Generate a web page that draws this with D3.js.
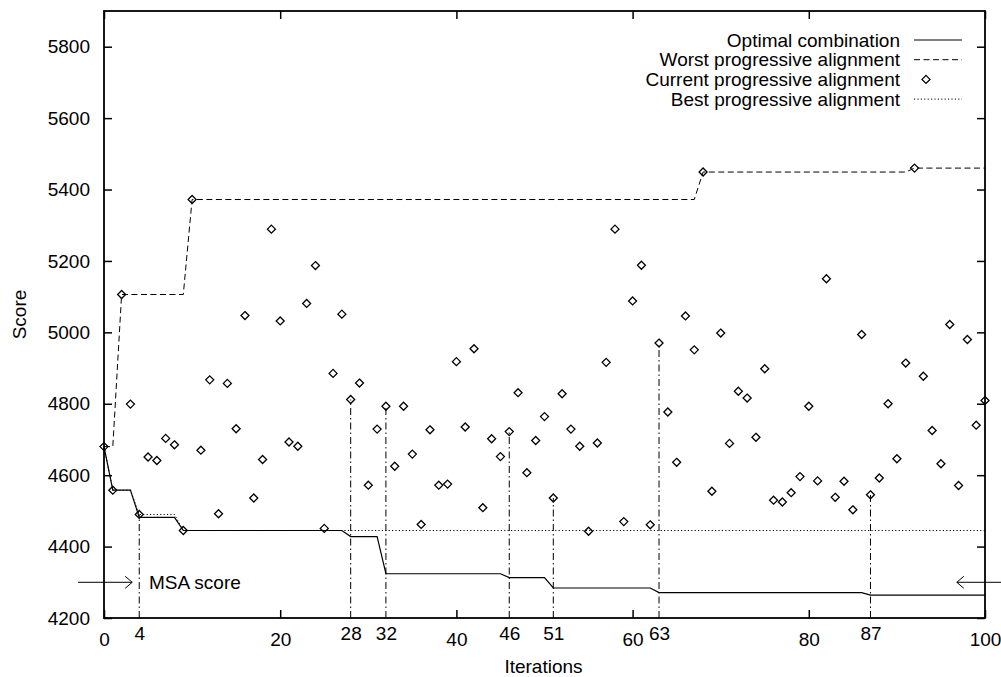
<!DOCTYPE html>
<html>
<head>
<meta charset="utf-8">
<script src="https://cdn.jsdelivr.net/npm/d3@7"></script>
<style>
  body { margin: 0; background: #fff; }
  text { font-family: "Liberation Sans", Arial, Helvetica, sans-serif; font-size: 19px; fill: #000; }
</style>
</head>
<body>
<div id="chart"></div>
<script>
// score of the progressive alignment at each iteration 0..100
const currentScores = [
  4680, 4558, 5106, 4799, 4490, 4651, 4641, 4703, 4685, 4445,
  5372, 4670, 4867, 4492, 4857, 4730, 5047, 4536, 4644, 5289,
  5032, 4693, 4681, 5081, 5187, 4451, 4885, 5051, 4812, 4858,
  4572, 4729, 4793, 4625, 4793, 4659, 4462, 4727, 4572, 4575,
  4918, 4735, 4954, 4509, 4702, 4652, 4722, 4831, 4607, 4697,
  4764, 4536, 4828, 4729, 4681, 4443, 4690, 4916, 5289, 4470,
  5088, 5188, 4461, 4970, 4777, 4636, 5046, 4951, 5449, 4555,
  4998, 4689, 4835, 4816, 4706, 4898, 4530, 4525, 4551, 4596,
  4793, 4584, 5150, 4538, 4583, 4503, 4994, 4545, 4592, 4800,
  4646, 4914, 5460, 4877, 4725, 4632, 5022, 4571, 4980, 4740,
  4809
];

// [iteration, score]
const optimalLine = [
  [0, 4680], [1, 4558], [3, 4558], [4, 4482], [8, 4482], [9, 4445],
  [27, 4445], [28, 4428], [31, 4428], [32, 4324], [45, 4324], [46, 4313],
  [50, 4313], [51, 4284], [62, 4284], [63, 4271], [86, 4271], [87, 4264],
  [100, 4264]
];
const worstLine = [
  [0, 4680], [1, 4680], [2, 5106], [9, 5106], [10, 5372], [67, 5372],
  [68, 5449], [91, 5449], [92, 5460], [100, 5460]
];
const bestLine = [
  [0, 4680], [1, 4558], [3, 4558], [4, 4490], [8, 4490], [9, 4445], [100, 4445]
];

const markedIterations = [4, 28, 32, 46, 51, 63, 87];
const xMajorTicks = [0, 20, 40, 60, 80, 100];
const yTicks = [4200, 4400, 4600, 4800, 5000, 5200, 5400, 5600, 5800];
const legendLabels = ["Optimal combination", "Worst progressive alignment",
                      "Current progressive alignment", "Best progressive alignment"];
const msaScore = 4300;

const W = 1001, H = 677;
const plot = { left: 104, right: 985, top: 11, bottom: 618 };

const svg = d3.select("#chart").append("svg")
  .attr("width", W).attr("height", H)
  .style("background", "#fff");

const x = d3.scaleLinear().domain([0, 100]).range([plot.left, plot.right]);
const y = d3.scaleLinear().domain([4200, 5900]).range([plot.bottom, plot.top]);

// axes (ticks point inwards, like gnuplot)
function styleAxis(g) {
  g.select(".domain").remove();
  g.selectAll(".tick line").attr("stroke", "#000").attr("stroke-width", 1.5);
  g.selectAll(".tick text").style("font-size", "19px").attr("fill", "#000");
}

svg.append("g")
  .attr("transform", `translate(0,${plot.bottom})`)
  .call(d3.axisBottom(x).tickValues(xMajorTicks).tickSizeInner(-8).tickSizeOuter(0).tickPadding(15))
  .call(styleAxis);

svg.append("g")
  .attr("transform", `translate(0,${plot.bottom})`)
  .call(d3.axisBottom(x).tickValues(markedIterations).tickSizeInner(0).tickSizeOuter(0).tickPadding(9))
  .call(styleAxis);

svg.append("g")
  .attr("transform", `translate(0,${plot.top})`)
  .call(d3.axisTop(x).tickValues(xMajorTicks).tickSizeInner(-8).tickSizeOuter(0).tickFormat(""))
  .call(styleAxis);

svg.append("g")
  .attr("transform", `translate(${plot.left},0)`)
  .call(d3.axisLeft(y).tickValues(yTicks).tickSizeInner(-8).tickSizeOuter(0).tickPadding(14).tickFormat(d3.format("d")))
  .call(styleAxis);

svg.append("g")
  .attr("transform", `translate(${plot.right},0)`)
  .call(d3.axisRight(y).tickValues(yTicks).tickSizeInner(-8).tickSizeOuter(0).tickFormat(""))
  .call(styleAxis);

// frame
svg.append("rect")
  .attr("x", plot.left).attr("y", plot.top)
  .attr("width", plot.right - plot.left).attr("height", plot.bottom - plot.top)
  .attr("fill", "none").attr("stroke", "#000").attr("stroke-width", 1.8);

// axis titles
svg.append("text")
  .attr("x", (plot.left + plot.right) / 2 - 1).attr("y", 673)
  .attr("text-anchor", "middle")
  .text("Iterations");

svg.append("text")
  .attr("transform", `translate(26,${(plot.top + plot.bottom) / 2}) rotate(-90)`)
  .attr("text-anchor", "middle")
  .text("Score");

const line = d3.line().x(d => x(d[0])).y(d => y(d[1]));

// dash-dot markers where the optimal combination improved
svg.append("g").selectAll("line")
  .data(markedIterations)
  .join("line")
  .attr("x1", d => x(d)).attr("x2", d => x(d))
  .attr("y1", y(4200)).attr("y2", d => y(currentScores[d]))
  .attr("stroke", "#000").attr("stroke-width", 1)
  .attr("stroke-dasharray", "7,3,1.5,3");

svg.append("path").datum(bestLine)
  .attr("d", line).attr("fill", "none")
  .attr("stroke", "#000").attr("stroke-width", 1)
  .attr("stroke-dasharray", "1.2,2.2");

svg.append("path").datum(worstLine)
  .attr("d", line).attr("fill", "none")
  .attr("stroke", "#000").attr("stroke-width", 1)
  .attr("stroke-dasharray", "6,3.5");

svg.append("path").datum(optimalLine)
  .attr("d", line).attr("fill", "none")
  .attr("stroke", "#000").attr("stroke-width", 1.2);

const diamond = "M0,-4L4,0L0,4L-4,0Z";
svg.append("g").selectAll("path")
  .data(currentScores)
  .join("path")
  .attr("d", diamond)
  .attr("transform", (d, i) => `translate(${x(i)},${y(d)})`)
  .attr("fill", "none").attr("stroke", "#000").attr("stroke-width", 1.3);

// MSA score annotation
const ya = y(msaScore);
function arrow(x1, x2) {
  const dir = x2 > x1 ? -1 : 1;
  const g = svg.append("g").attr("stroke", "#000").attr("stroke-width", 1).attr("fill", "none");
  g.append("line").attr("x1", x1).attr("x2", x2).attr("y1", ya).attr("y2", ya);
  g.append("path").attr("d", `M${x2 + dir * 7},${ya - 6}L${x2},${ya}L${x2 + dir * 7},${ya + 6}`);
}
arrow(x(-2.95), x(3.2));
arrow(W + 2, x(96.8));
svg.append("text")
  .attr("x", x(5.1)).attr("y", ya).attr("dy", "0.35em")
  .text("MSA score");

// legend
const legend = svg.append("g");
const rowY = i => 40 + i * 19.7;
legendLabels.forEach((label, i) => {
  legend.append("text")
    .attr("x", 900).attr("y", rowY(i)).attr("dy", "0.35em")
    .attr("text-anchor", "end")
    .text(label);
});
const sample = (i, dash) => legend.append("line")
  .attr("x1", 914).attr("x2", 962).attr("y1", rowY(i)).attr("y2", rowY(i))
  .attr("stroke", "#000").attr("stroke-width", i === 0 ? 1.2 : 1)
  .attr("stroke-dasharray", dash);
sample(0, null);
sample(1, "6,3.5");
sample(3, "1.2,2.2");
legend.append("path")
  .attr("d", diamond)
  .attr("transform", `translate(926,${rowY(2)})`)
  .attr("fill", "none").attr("stroke", "#000").attr("stroke-width", 1.3);
</script>
</body>
</html>
